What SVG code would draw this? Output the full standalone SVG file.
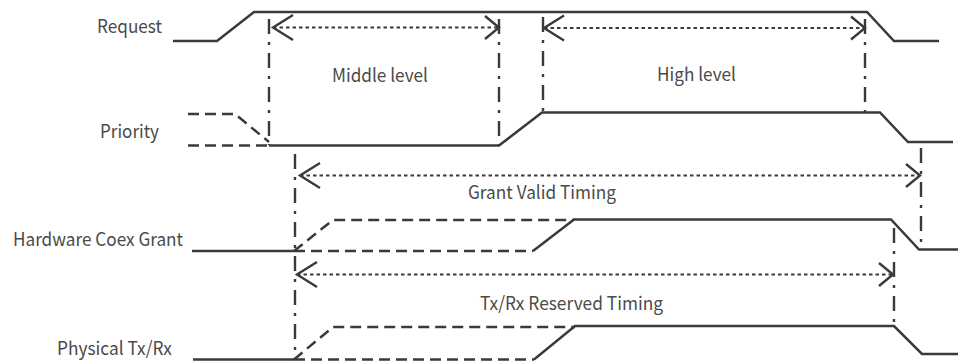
<svg xmlns="http://www.w3.org/2000/svg" width="958" height="361" viewBox="0 0 958 361">
<style>
  .sig{fill:none;stroke:#3a3a3a;stroke-width:2.5;stroke-linejoin:miter}
  .dash{fill:none;stroke:#3a3a3a;stroke-width:2.5;stroke-dasharray:11 6}
  .dd{fill:none;stroke:#3a3a3a;stroke-width:2.4;stroke-dasharray:15 8 3 8}
  .dot{fill:none;stroke:#3a3a3a;stroke-width:2.2;stroke-dasharray:3.5 3}
  .ah{fill:none;stroke:#3a3a3a;stroke-width:2.4}
  text{font-family:"Noto Sans CJK SC","Noto Sans",sans-serif;font-size:18.5px;fill:#4a4a4a}
</style>
<defs>
  <marker id="aL" markerUnits="userSpaceOnUse" orient="auto" overflow="visible" markerWidth="1" markerHeight="1" refX="0" refY="0">
    <path class="ah" d="M20,-12.5 L0,0 L20,12.5"/>
  </marker>
  <marker id="aR" markerUnits="userSpaceOnUse" orient="auto" overflow="visible" markerWidth="1" markerHeight="1" refX="0" refY="0">
    <path class="ah" d="M-14,-11.5 L0,0 L-14,11.5"/>
  </marker>
</defs>
<rect width="958" height="361" fill="#ffffff"/>

<g id="request">
  <text x="97" y="33" textLength="65" lengthAdjust="spacingAndGlyphs">Request</text>
  <path class="sig" d="M173,41 H217 L254,12 H867 L894,41 H939"/>
</g>
<g id="priority">
  <text x="100" y="138" textLength="59" lengthAdjust="spacingAndGlyphs">Priority</text>
  <path class="dash" d="M188,114 H235 L269,142"/>
  <path class="dash" d="M188,145.5 H269"/>
  <path class="sig" d="M269,145.5 H499 L542,112.5 H880 L908,142 H953"/>
</g>
<g id="hw-coex-grant">
  <text x="13" y="246" textLength="170" lengthAdjust="spacingAndGlyphs">Hardware Coex Grant</text>
  <path class="sig" d="M192,251 H294"/>
  <path class="dash" d="M294,251 H533"/>
  <path class="dash" d="M294,251 L333,220 H574"/>
  <path class="sig" d="M533,251 L574,219.5 H891 L919,249.5 H958"/>
</g>
<g id="physical-txrx">
  <text x="57" y="355" textLength="115" lengthAdjust="spacingAndGlyphs">Physical Tx/Rx</text>
  <path class="sig" d="M193,359.5 H294"/>
  <path class="dash" d="M294,359.5 H534"/>
  <path class="dash" d="M294,359.5 L333,327 H575"/>
  <path class="sig" d="M534,359.5 L575,326 H894 L922,354 H958"/>
</g>
<g id="middle-level">
  <text x="332" y="82" textLength="96" lengthAdjust="spacingAndGlyphs">Middle level</text>
</g>
<g id="high-level">
  <text x="657" y="81" textLength="79" lengthAdjust="spacingAndGlyphs">High level</text>
</g>
<g id="grant-valid-timing">
  <text x="468" y="199" textLength="148" lengthAdjust="spacingAndGlyphs">Grant Valid Timing</text>
</g>
<g id="txrx-reserved-timing">
  <text x="480" y="310" textLength="183" lengthAdjust="spacingAndGlyphs">Tx/Rx Reserved Timing</text>
</g>

<g id="connectors">
  <path class="dd" d="M269,19 V145"/>
  <path class="dd" d="M499,19 V145"/>
  <path class="dd" d="M543,17 V112"/>
  <path class="dd" d="M865,19 V112"/>
  <path class="dd" d="M295,154 V360"/>
  <path class="dd" d="M921,148 V249"/>
  <path class="dd" d="M894,228 V326"/>
  <path class="dot" d="M273,27.5 H499" marker-start="url(#aL)" marker-end="url(#aR)"/>
  <path class="dot" d="M544,28 H865" marker-start="url(#aL)" marker-end="url(#aR)"/>
  <path class="dot" d="M300,175.5 H920" marker-start="url(#aL)" marker-end="url(#aR)"/>
  <path class="dot" d="M297,274.5 H893" marker-start="url(#aL)" marker-end="url(#aR)"/>
</g>
</svg>
